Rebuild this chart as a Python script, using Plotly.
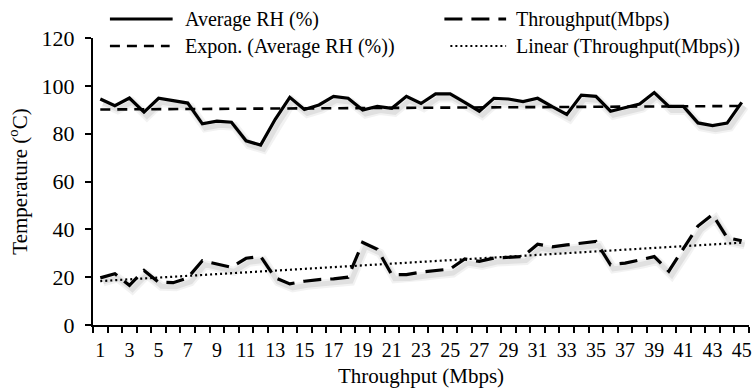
import numpy as np
import plotly.graph_objects as go

# Sample index (1..45) and measured series
samples = list(range(1, 46))
avg_rh = [94.5, 91.7, 94.9, 89.0, 94.8, 93.8, 92.8, 84.1, 85.2, 84.8,
          77.0, 75.2, 86.0, 95.2, 90.1, 92.0, 95.6, 94.8, 89.9, 91.4,
          90.6, 95.6, 92.6, 96.6, 96.6, 93.1, 89.4, 94.8, 94.5, 93.4,
          94.8, 91.3, 88.0, 96.1, 95.6, 89.4, 91.0, 92.4, 97.2, 91.4,
          91.4, 84.5, 83.4, 84.4, 93.1]
throughput = [19.7, 21.4, 16.6, 22.8, 17.9, 17.7, 19.7, 26.9, 25.5, 24.1,
              27.9, 28.7, 19.7, 17.2, 18.3, 19.0, 19.3, 20.0, 34.5, 31.7,
              21.0, 21.1, 22.1, 22.8, 23.4, 27.6, 26.6, 28.0, 28.3, 28.6,
              33.8, 32.7, 33.5, 34.1, 34.9, 25.2, 25.9, 27.2, 28.6, 22.5,
              31.7, 41.4, 46.2, 36.5, 35.2]
odd_labels = [str(v) for v in range(1, 46, 2)]

x = np.array(samples, dtype=float)
rh = np.array(avg_rh)
tp = np.array(throughput)

# Trend lines: exponential fit for RH, least-squares line for throughput
b_exp, a_exp = np.polyfit(x, np.log(rh), 1)
rh_trend = np.exp(a_exp + b_exp * x)
b_lin, a_lin = np.polyfit(x, tp, 1)
tp_trend = a_lin + b_lin * x

W, H = 753, 392
M_L, M_R, M_T, M_B = 93, 1, 38, 67
PW, PH = W - M_L - M_R, H - M_T - M_B

def px_x(px):
    return (px - M_L) / PW

def px_y(py):
    return (H - M_B - py) / PH

fig = go.Figure()

# soft drop shadow under the measured lines
for series in (rh, tp):
    for width, alpha in ((9, 0.05), (5, 0.07)):
        fig.add_trace(go.Scatter(
            x=x + 0.2, y=series - 1.7, mode="lines",
            line=dict(color=f"rgba(0,0,0,{alpha})", width=width),
            showlegend=False, hoverinfo="skip"))

styles = {
    "Average RH (%)": dict(color="black", width=3.2),
    "Throughput(Mbps)": dict(color="black", width=3.2, dash="18px,9px"),
    "Expon. (Average RH (%))": dict(color="black", width=2.6, dash="10px,7px"),
    "Linear (Throughput(Mbps))": dict(color="black", width=2.2, dash="2px,3px"),
}

fig.add_trace(go.Scatter(x=x, y=rh, mode="lines", name="Average RH (%)",
                         line=styles["Average RH (%)"], showlegend=False))
fig.add_trace(go.Scatter(x=x, y=tp, mode="lines", name="Throughput(Mbps)",
                         line=styles["Throughput(Mbps)"], showlegend=False))
fig.add_trace(go.Scatter(x=x, y=rh_trend, mode="lines",
                         name="Expon. (Average RH (%))",
                         line=styles["Expon. (Average RH (%))"],
                         showlegend=False))
fig.add_trace(go.Scatter(x=x, y=tp_trend, mode="lines",
                         name="Linear (Throughput(Mbps))",
                         line=styles["Linear (Throughput(Mbps))"],
                         showlegend=False))

font_family = "Liberation Serif, Times New Roman, serif"

# Two-column key above the plot: (label, sample start, sample end, text x, row y)
key_items = [
    ("Average RH (%)", 110, 173, 183, 19),
    ("Throughput(Mbps)", 446, 508, 516, 19),
    ("Expon. (Average RH (%))", 110, 170, 183, 46),
    ("Linear (Throughput(Mbps))", 452, 508, 516, 46),
]
for label, x0, x1, tx, ty in key_items:
    st = styles[label]
    fig.add_shape(type="line", xref="paper", yref="paper",
                  x0=px_x(x0), x1=px_x(x1), y0=px_y(ty), y1=px_y(ty),
                  line=dict(color=st["color"], width=st["width"],
                            dash=st.get("dash", "solid")))
    fig.add_annotation(text=label, xref="paper", yref="paper",
                       x=px_x(tx), y=px_y(ty), xanchor="left",
                       yanchor="middle", showarrow=False,
                       font=dict(size=20, color="black"))

fig.update_layout(
    width=W, height=H,
    margin=dict(l=M_L, r=M_R, t=M_T, b=M_B),
    paper_bgcolor="white", plot_bgcolor="white",
    font=dict(family=font_family, color="black", size=20),
    showlegend=False,
    xaxis=dict(
        range=[0.5, 45.5],
        tickmode="array",
        tickvals=list(range(1, 46, 2)),
        ticktext=odd_labels,
        ticks="outside", ticklen=6, tickcolor="rgba(0,0,0,0)",
        ticklabelstandoff=0, ticklabeloverflow="allow",
        showgrid=False, zeroline=False,
        showline=True, linecolor="black", linewidth=2,
        tickfont=dict(size=20, color="black"),
        minor=dict(tickmode="array",
                   tickvals=[v + 0.5 for v in range(0, 46)],
                   ticks="outside", ticklen=6, tickwidth=2,
                   tickcolor="black", showgrid=False),
        title=dict(text="Throughput (Mbps)",
                   font=dict(size=21, color="black"), standoff=8),
    ),
    yaxis=dict(
        range=[0, 120], dtick=20,
        ticks="outside", ticklen=6, tickwidth=2, tickcolor="black",
        ticklabelstandoff=6,
        showgrid=False, zeroline=False,
        showline=True, linecolor="black", linewidth=2,
        tickfont=dict(size=22, color="black"),
        title=dict(text="Temperature (<sup>o</sup>C)",
                   font=dict(size=21, color="black"), standoff=8),
    ),
)

fig.write_html("out.html")
